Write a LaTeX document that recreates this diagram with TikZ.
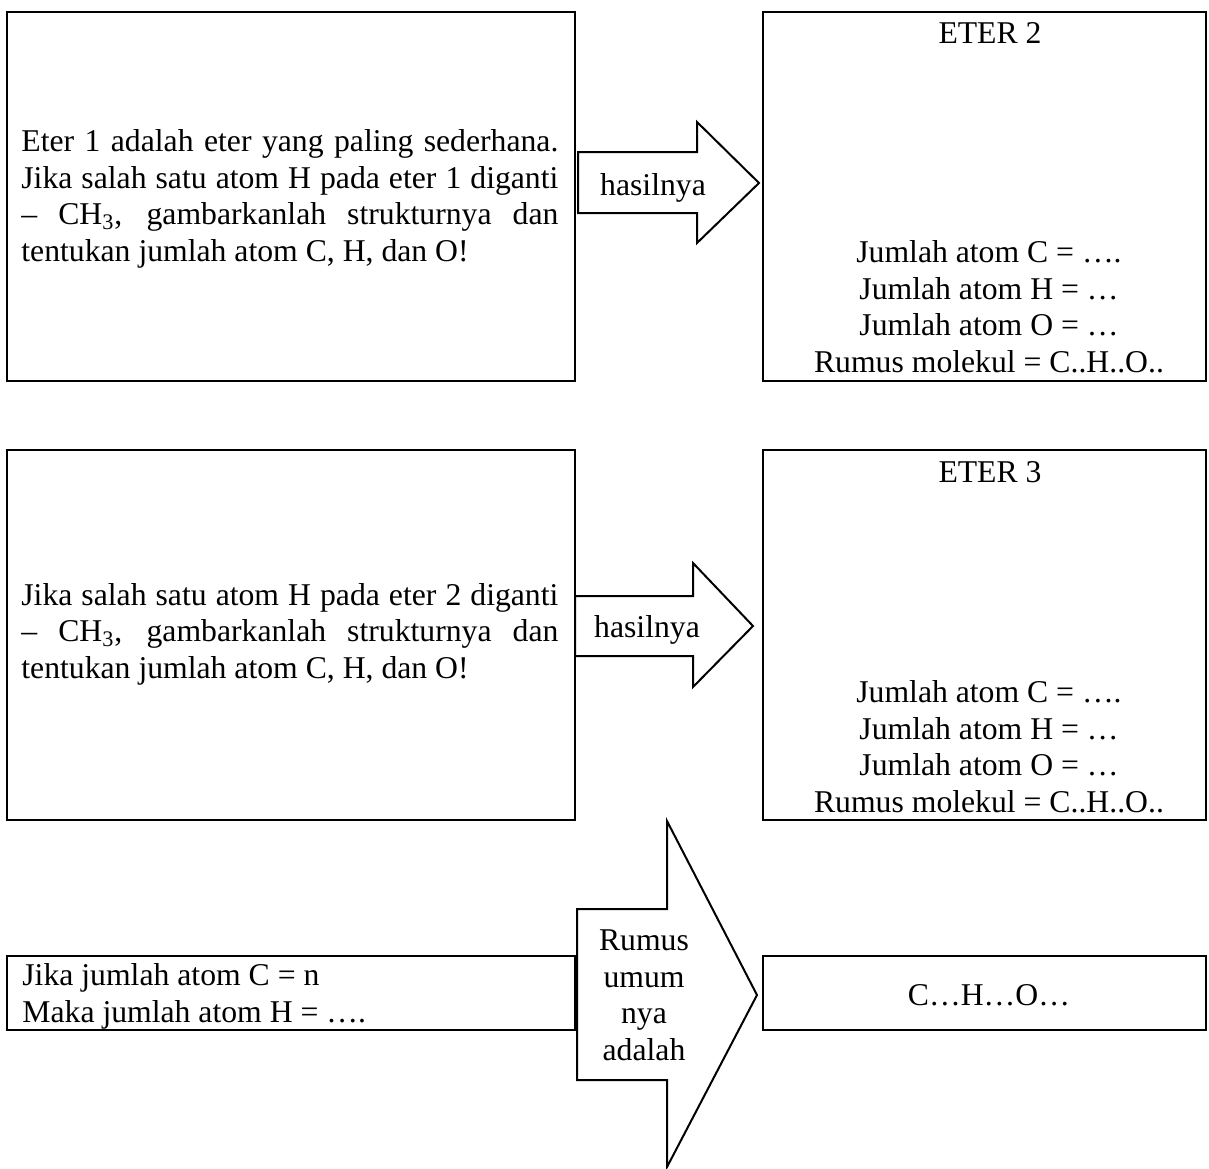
\documentclass[tikz,border=0pt]{standalone}
\usepackage{fontspec}
\setmainfont{Liberation Serif}

\begin{document}
\begin{tikzpicture}
[
	x=0.5pt, y=-0.5pt,
% Box style
	box/.style={
		draw,
		line width=1pt,
		inner sep=0pt},
% Block arrow style
	blockarrow/.style={
		draw,
		line width=1pt,
		fill=white,
		line join=miter},
% Text style
	every node/.style={
		font=\fontsize{15.85pt}{18.25pt}\selectfont,
		inner sep=0pt},
]

\useasboundingbox (0,0) rectangle (1209,1168);

% Question boxes
\node[box, minimum width=284pt, minimum height=184.5pt] (soal1) at (291,196.5) {};
\node[box, minimum width=284pt, minimum height=185pt] (soal2) at (291,635) {};
\node[box, minimum width=284pt, minimum height=37pt] (soal3) at (291,993) {};

% Answer boxes
\node[box, minimum width=221.5pt, minimum height=184.5pt] (eter2) at (984.5,196.5) {};
\node[box, minimum width=221.5pt, minimum height=185pt] (eter3) at (984.5,635) {};
\node[box, minimum width=221.5pt, minimum height=37pt] (rumus) at (984.5,993) {};

% Block arrows
\draw [blockarrow] (578,152) -- (697,152) -- (697,122) -- (759,183)
	-- (697,243) -- (697,213) -- (578,213) -- cycle;
\draw [blockarrow] (575,596) -- (693,596) -- (693,563) -- (753,626)
	-- (693,687) -- (693,656) -- (575,656) -- cycle;
\draw [blockarrow] (577,909) -- (667,909) -- (667,821) -- (757,995)
	-- (667,1167) -- (667,1080) -- (577,1080) -- cycle;

% Arrow labels (base = last line)
\node[anchor=base] (hasil1) at (653,195) {hasilnya};
\node[anchor=base] (hasil2) at (647,637) {hasilnya};
\node[anchor=base, align=center] (umum) at (644,1060)
	{Rumus\\umum\\nya\\adalah};

% Question texts
\node[anchor=base west, align=left] (teks1) at (21,261)
	{\makebox[268.5pt][s]{Eter 1 adalah eter yang paling sederhana.}\\
	\makebox[268.5pt][s]{Jika salah satu atom H pada eter 1 diganti}\\
	\makebox[268.5pt][s]{– CH\textsubscript{3}, gambarkanlah strukturnya dan}\\
	tentukan jumlah atom C, H, dan O!};
\node[anchor=base west, align=left] (teks2) at (21,678)
	{\makebox[268.5pt][s]{Jika salah satu atom H pada eter 2 diganti}\\
	\makebox[268.5pt][s]{– CH\textsubscript{3}, gambarkanlah strukturnya dan}\\
	tentukan jumlah atom C, H, dan O!};
\node[anchor=base west, align=left] (teks3) at (22,1022)
	{Jika jumlah atom C = n\\Maka jumlah atom H = ….};

% Answer texts
\node[anchor=base] (judul2) at (990,43) {ETER 2};
\node[anchor=base, align=center] (isi2) at (989,372)
	{Jumlah atom C = ….\\Jumlah atom H = …\\Jumlah atom O = …\\Rumus molekul = C..H..O..};
\node[anchor=base] (judul3) at (990,482) {ETER 3};
\node[anchor=base, align=center] (isi3) at (989,812)
	{Jumlah atom C = ….\\Jumlah atom H = …\\Jumlah atom O = …\\Rumus molekul = C..H..O..};
\node[anchor=base] (hasilrumus) at (989,1005) {C…H…O…};

\end{tikzpicture}
\end{document}
